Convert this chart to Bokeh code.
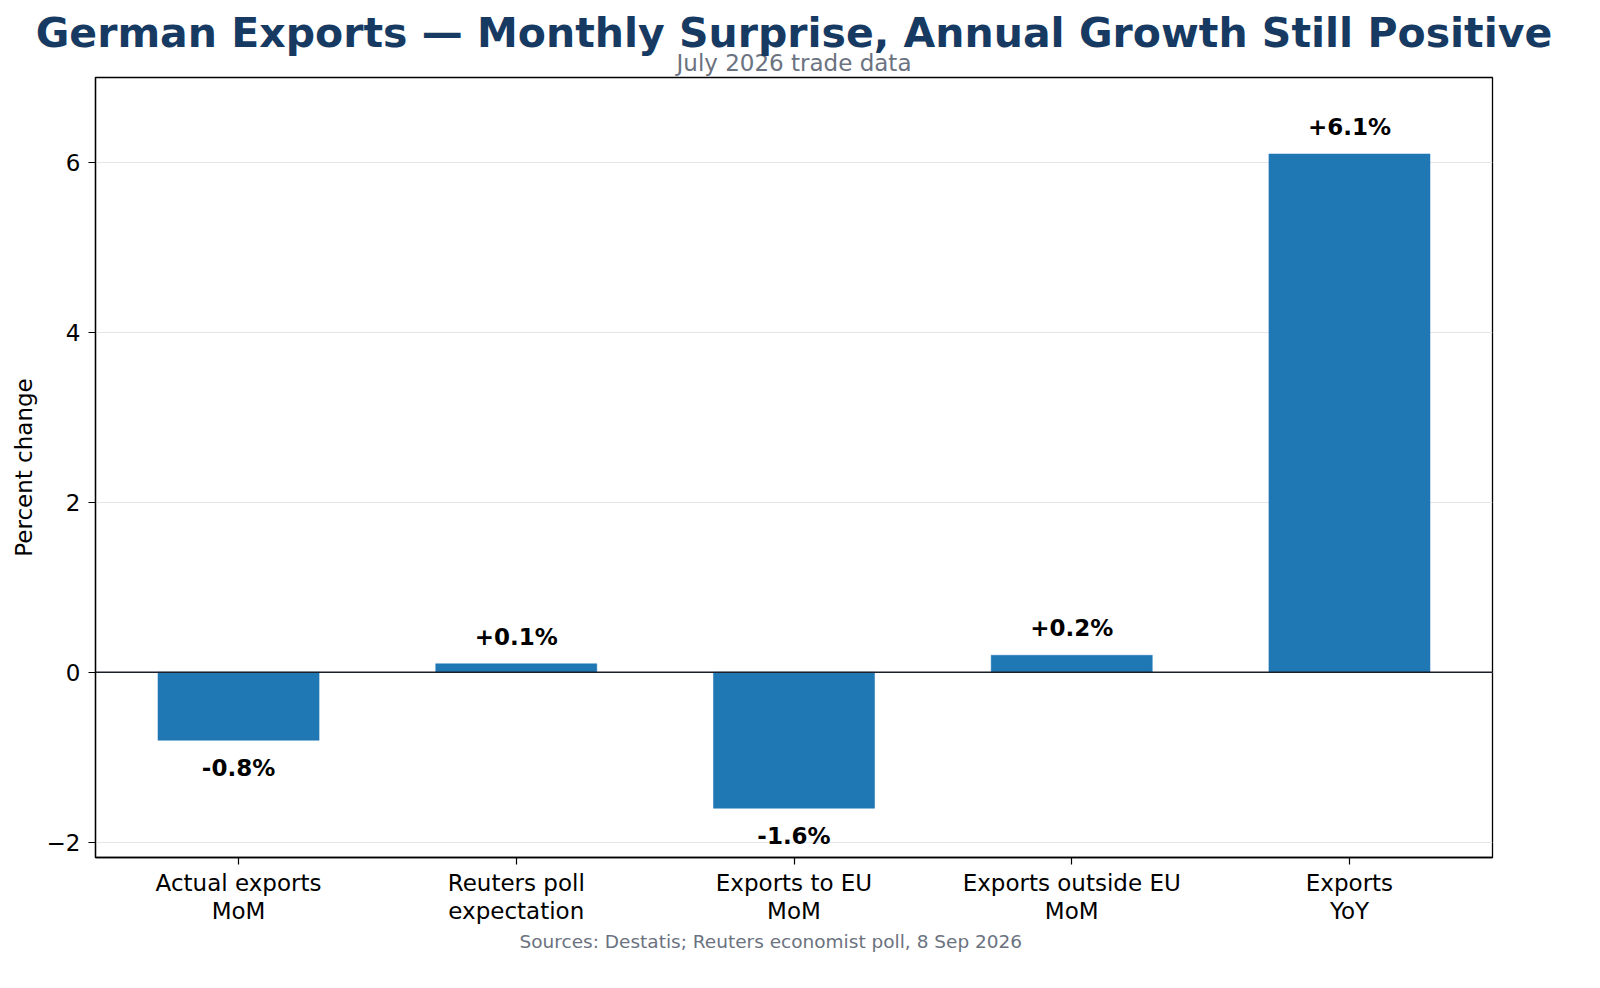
from bokeh.plotting import figure
from bokeh.models import Range1d, FixedTicker, Span, ColumnDataSource, Title
from bokeh.embed import file_html
from bokeh.resources import INLINE
from bokeh.core.properties import value

# ---- data ----
categories = [
    "Actual exports\nMoM",
    "Reuters poll\nexpectation",
    "Exports to EU\nMoM",
    "Exports outside EU\nMoM",
    "Exports\nYoY",
]
values = [-0.8, 0.1, -1.6, 0.2, 6.1]
y_ticks = [-2, 0, 2, 4, 6]
title_text = "German Exports \u2014 Monthly Surprise, Annual Growth Still Positive"
subtitle_text = "July 2026 trade data"
source_text = "Sources: Destatis; Reuters economist poll, 8 Sep 2026"
y_label = "Percent change"

FONT = "DejaVu Sans"
BAR = "#1f77b4"

xs = list(range(len(categories)))

p = figure(
    width=1584, height=972, title=None,
    output_backend="svg", toolbar_location=None,
    x_range=Range1d(-0.515, len(categories) - 1 + 0.515),
    y_range=Range1d(-2.18, 7.0),
    min_border_left=95, min_border_right=92,
    min_border_top=77, min_border_bottom=115,
    background_fill_color="white", border_fill_color="white",
)
p.outline_line_color = "black"
p.outline_line_width = 1.3
p.xgrid.visible = False
p.ygrid.grid_line_color = "#e6e6ea"
p.ygrid.grid_line_width = 1.2
p.ygrid.ticker = FixedTicker(ticks=y_ticks)

# axes
p.xaxis.ticker = FixedTicker(ticks=xs)
p.xaxis.major_label_overrides = {i: c for i, c in zip(xs, categories)}
p.yaxis.ticker = FixedTicker(ticks=y_ticks)
p.yaxis.major_label_overrides = {t: str(t).replace("-", "\u2212") for t in y_ticks}
for ax in (p.xaxis[0], p.yaxis[0]):
    ax.axis_line_color = "black"
    ax.axis_line_width = 1.3
    ax.major_tick_line_color = "black"
    ax.major_tick_line_width = 1.2
    ax.major_tick_out = 7
    ax.major_tick_in = 0
    ax.minor_tick_out = 0
    ax.minor_tick_in = 0
    ax.major_label_text_font = FONT
    ax.major_label_text_font_size = "23px"
    ax.major_label_text_color = "black"
p.xaxis.major_label_standoff = 5
p.xaxis.major_label_text_line_height = 1.1
p.yaxis.major_label_standoff = 8
p.yaxis.axis_label = y_label
p.yaxis.axis_label_text_font = FONT
p.yaxis.axis_label_text_font_size = "23px"
p.yaxis.axis_label_text_font_style = "normal"
p.yaxis.axis_label_text_color = "black"
p.yaxis.axis_label_standoff = 7

# bars
src = ColumnDataSource(dict(x=xs, top=values))
p.vbar(x="x", top="top", bottom=0, width=0.58, source=src,
       fill_color=BAR, line_color=BAR, line_width=0.5)

# zero line
p.add_layout(Span(location=0, dimension="width", line_color="#1a1f2b", line_width=1.6))

# value labels
pos_idx = [i for i, v in enumerate(values) if v >= 0]
neg_idx = [i for i, v in enumerate(values) if v < 0]
pos_src = ColumnDataSource(dict(x=[xs[i] for i in pos_idx], y=[values[i] for i in pos_idx],
                                t=[f"{values[i]:+.1f}%" for i in pos_idx]))
neg_src = ColumnDataSource(dict(x=[xs[i] for i in neg_idx], y=[values[i] for i in neg_idx],
                                t=[f"{values[i]:+.1f}%" for i in neg_idx]))
p.text(x="x", y="y", text="t", source=pos_src, text_align="center",
       text_baseline="middle", y_offset=-27, text_font=value(FONT),
       text_font_style="bold", text_font_size="23px", text_color="black")
p.text(x="x", y="y", text="t", source=neg_src, text_align="center",
       text_baseline="middle", y_offset=28, text_font=value(FONT),
       text_font_style="bold", text_font_size="23px", text_color="black")

# titles
sub = Title(text=subtitle_text, align="center", vertical_align="bottom", standoff=3,
            text_font=FONT, text_font_size="23px", text_font_style="normal",
            text_color="#6b7280")
p.add_layout(sub, "above")
main = Title(text=title_text, align="center", vertical_align="bottom", standoff=-21,
             text_font=FONT, text_font_size="41px", text_font_style="bold",
             text_color="#173a63")
p.add_layout(main, "above")
foot = Title(text=source_text, align="left", offset=424, vertical_align="top", standoff=6,
             text_font=FONT, text_font_size="18.5px", text_font_style="normal",
             text_color="#6b7280")
p.add_layout(foot, "below")

open("out.html", "w").write(file_html(p, INLINE))
